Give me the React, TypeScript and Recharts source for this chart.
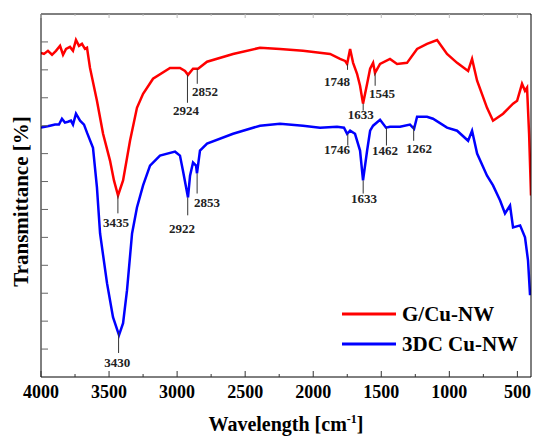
import { LineChart, Line, XAxis, YAxis, ReferenceLine, ReferenceDot, Legend } from 'recharts';

const FONT = '"Liberation Serif", "DejaVu Serif", serif';

// G/Cu-NW spectrum (wavenumber in cm-1, transmittance in arbitrary units)
const redWn = [4000, 3978, 3949, 3919, 3890, 3860, 3838, 3816, 3787, 3765, 3743, 3721, 3699, 3677, 3662, 3640, 3589, 3544, 3493, 3464, 3434, 3397, 3346, 3295, 3250, 3177, 3052, 2979, 2942, 2920, 2883, 2846, 2780, 2589, 2391, 2244, 2075, 1876, 1803, 1766, 1751, 1729, 1707, 1678, 1656, 1634, 1604, 1582, 1560, 1546, 1509, 1436, 1384, 1311, 1237, 1164, 1090, 1017, 943, 862, 833, 796, 723, 679, 605, 532, 502, 466, 444, 429, 414, 400];
const redT = [11.61, 11.57, 11.68, 11.54, 11.68, 11.86, 11.54, 11.75, 11.82, 11.68, 12.07, 11.86, 11.93, 11.75, 11.79, 11.07, 9.89, 8.71, 7.75, 7.04, 6.5, 7.04, 8.46, 9.64, 10.14, 10.68, 11.07, 11.07, 10.96, 10.82, 11.04, 11.04, 11.29, 11.57, 11.79, 11.75, 11.68, 11.57, 11.39, 11.32, 11.21, 11.75, 11.25, 10.86, 10.43, 9.79, 10.5, 11.04, 11.25, 10.89, 11.21, 11.39, 11.21, 11.25, 11.75, 11.93, 12.07, 11.57, 11.25, 10.96, 11.39, 10.61, 9.64, 9.18, 9.43, 9.79, 9.89, 10.5, 10.25, 10.36, 8.71, 6.5];

// 3DC Cu-NW spectrum
const blueWn = [4000, 3971, 3934, 3897, 3868, 3846, 3824, 3802, 3780, 3765, 3743, 3713, 3684, 3662, 3618, 3589, 3566, 3515, 3471, 3427, 3397, 3368, 3331, 3295, 3250, 3199, 3126, 3015, 2979, 2957, 2920, 2905, 2883, 2861, 2854, 2832, 2780, 2589, 2391, 2244, 2075, 1950, 1825, 1774, 1751, 1729, 1693, 1656, 1634, 1604, 1582, 1560, 1509, 1465, 1436, 1362, 1289, 1259, 1237, 1164, 1120, 1017, 943, 862, 833, 796, 723, 679, 627, 591, 554, 532, 480, 444, 422, 407];
const blueT = [8.93, 8.96, 9.0, 9.04, 9.04, 9.25, 9.11, 9.14, 9.18, 9.04, 9.43, 9.18, 9.04, 8.75, 8.21, 6.79, 5.14, 3.36, 2.14, 1.5, 1.93, 3.11, 5.14, 6.07, 6.86, 7.57, 7.93, 8.07, 7.93, 7.39, 6.43, 7.21, 7.68, 7.57, 7.29, 8.11, 8.36, 8.71, 9.0, 9.07, 9.0, 8.93, 8.96, 8.93, 8.71, 8.82, 8.71, 8.11, 7.04, 8.11, 8.82, 9.0, 9.21, 8.93, 8.96, 8.96, 9.04, 8.89, 9.32, 9.32, 9.25, 8.93, 8.82, 8.46, 8.82, 8.0, 7.21, 6.86, 6.32, 5.86, 6.14, 5.36, 5.43, 5.0, 4.18, 2.93];

const xTicks = [500, 750, 1000, 1250, 1500, 1750, 2000, 2250, 2500, 2750, 3000, 3250, 3500, 3750, 4000];
const yTicks = [1, 2, 3, 4, 5, 6, 7, 8, 9, 10, 11, 12];

// peak marks: wavenumber, marker line from top to bottom, label anchor (lx, ly)
const peakWn = [2924, 2852, 3435, 1748, 1633, 1545, 3430, 2922, 2853, 1746, 1633, 1462, 1262];
const peakTop = [10.82, 11.04, 6.5, 11.21, 9.79, 10.89, 1.6, 6.43, 7.29, 8.71, 7.04, 8.93, 9.0];
const peakBottom = [9.82, 10.5, 5.86, 11.0, 9.54, 10.43, 0.86, 5.79, 6.57, 8.29, 6.57, 8.29, 8.46];
const peakLx = [2935, 2795, 3449, 1825, 1650, 1494, 3440, 2964, 2780, 1825, 1627, 1472, 1222];
const peakLy = [9.54, 10.23, 5.54, 10.59, 9.39, 10.14, 0.54, 5.32, 6.25, 8.14, 6.39, 8.11, 8.18];

const redData = redWn.map((wn, i) => ({ wn, t: redT[i] }));
const blueData = blueWn.map((wn, i) => ({ wn, t: blueT[i] }));

const legendItems = [
  { label: 'G/Cu-NW', color: '#ff0000' },
  { label: '3DC Cu-NW', color: '#0000ff' },
];

function BottomTick({ x, y, payload }: any) {
  const major = payload.value % 500 === 0;
  return (
    <g>
      <line x1={x} x2={x} y1={y} y2={y - (major ? 6 : 3)} stroke="#333" />
      {major && (
        <text x={x} y={y + 21} textAnchor="middle" fontFamily={FONT} fontWeight={700} fontSize={18} fill="#000">
          {payload.value}
        </text>
      )}
    </g>
  );
}

function TopTick({ x, y, payload }: any) {
  const major = payload.value % 500 === 0;
  return <line x1={x} x2={x} y1={y} y2={y + (major ? 4 : 2)} stroke="#bbb" />;
}

function LeftTick({ x, y }: any) {
  return <line x1={x} x2={x + 7} y1={y} y2={y} stroke="#666" />;
}

function RightTick({ x, y }: any) {
  return <line x1={x} x2={x - 5} y1={y} y2={y} stroke="#aaa" />;
}

function XTitle({ viewBox }: any) {
  const cx = viewBox.x + viewBox.width / 2;
  return (
    <text x={cx} y={viewBox.y + 54} textAnchor="middle" fontFamily={FONT} fontWeight={700} fontSize={20} fill="#000">
      Wavelength [cm<tspan dy={-8} fontSize={12}>-1</tspan><tspan dy={8}>]</tspan>
    </text>
  );
}

function YTitle({ viewBox }: any) {
  const cy = viewBox.y + viewBox.height / 2 + 6;
  const x = 28;
  return (
    <text x={x} y={cy} transform={`rotate(-90 ${x} ${cy})`} textAnchor="middle" fontFamily={FONT} fontWeight={700} fontSize={21} fill="#000">
      Transmittance [%]
    </text>
  );
}

function LegendBox() {
  return (
    <div style={{ fontFamily: FONT, fontWeight: 700, fontSize: 21, color: '#000' }}>
      {legendItems.map((it) => (
        <div key={it.label} style={{ display: 'flex', alignItems: 'center', height: 30 }}>
          <svg width={60} height={30} style={{ display: 'block' }}>
            <line x1={0} x2={54} y1={15} y2={15} stroke={it.color} strokeWidth={3} />
          </svg>
          <span style={{ lineHeight: '30px', whiteSpace: 'nowrap' }}>{it.label}</span>
        </div>
      ))}
    </div>
  );
}

export default function App() {
  return (
    <div style={{ position: 'absolute', left: 0, top: 0, width: 533, height: 437, background: '#fff' }}>
      <LineChart width={533} height={437} margin={{ top: 0, right: 0, bottom: 0, left: 0 }}>
        <XAxis
          dataKey="wn"
          type="number"
          domain={[400, 4000]}
          reversed
          allowDataOverflow
          ticks={xTicks}
          interval={0}
          height={60}
          tickSize={0}
          tickMargin={0}
          tickLine={false}
          axisLine={{ stroke: '#000' }}
          tick={<BottomTick />}
          label={<XTitle />}
        />
        <XAxis
          xAxisId="top"
          orientation="top"
          dataKey="wn"
          type="number"
          domain={[400, 4000]}
          reversed
          allowDataOverflow
          ticks={xTicks}
          interval={0}
          height={14}
          tickSize={0}
          tickMargin={0}
          tickLine={false}
          axisLine={{ stroke: '#000' }}
          tick={<TopTick />}
        />
        <YAxis
          type="number"
          domain={[0, 13]}
          allowDataOverflow
          ticks={yTicks}
          interval={0}
          width={41}
          tickSize={0}
          tickMargin={0}
          tickLine={false}
          axisLine={{ stroke: '#000' }}
          tick={<LeftTick />}
          label={<YTitle />}
        />
        <YAxis
          yAxisId="r"
          orientation="right"
          type="number"
          domain={[0, 13]}
          ticks={yTicks}
          interval={0}
          width={2}
          tickSize={0}
          tickMargin={0}
          tickLine={false}
          axisLine={{ stroke: '#000' }}
          tick={<RightTick />}
        />
        <Line data={redData} dataKey="t" name="G/Cu-NW" stroke="#ff0000" strokeWidth={2.5} dot={false} type="linear" isAnimationActive={false} />
        <Line data={blueData} dataKey="t" name="3DC Cu-NW" stroke="#0000ff" strokeWidth={2.5} dot={false} type="linear" isAnimationActive={false} />
        {peakWn.map((wn, i) => (
          <ReferenceLine
            key={`pl${i}`}
            segment={[{ x: wn, y: peakTop[i] }, { x: wn, y: peakBottom[i] }]}
            stroke="#333"
            strokeWidth={1}
          />
        ))}
        {peakWn.map((wn, i) => (
          <ReferenceDot
            key={`pd${i}`}
            x={peakLx[i]}
            y={peakLy[i]}
            r={0}
            fill="none"
            stroke="none"
            label={{ value: String(wn), position: 'center', fill: '#222', fontSize: 13, fontWeight: 700, fontFamily: FONT }}
          />
        ))}
        <Legend
          layout="horizontal"
          verticalAlign="middle"
          align="center"
          content={<LegendBox />}
          wrapperStyle={{ left: 342, top: 299, width: 180 }}
        />
      </LineChart>
    </div>
  );
}
